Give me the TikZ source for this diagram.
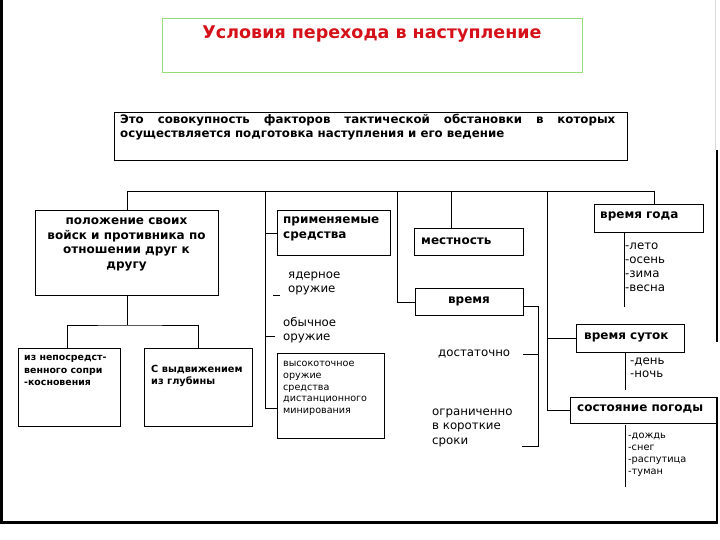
\documentclass[tikz,border=0pt]{standalone}
\usepackage{fontspec}
\setmainfont{DejaVu Sans}
\usetikzlibrary{positioning}
\definecolor{titlered}{RGB}{214,16,24}
\definecolor{framegreen}{RGB}{150,220,120}

\begin{document}
\begin{tikzpicture}[x=1pt,y=-1pt,
    box/.style={draw, line width=1pt, anchor=north west, inner sep=0pt},
    lab/.style={font=\bfseries\fontsize{12}{14.5}\selectfont, align=left, inner sep=0pt, anchor=west},
    item/.style={font=\fontsize{11.8}{14}\selectfont, align=left, inner sep=0pt, anchor=west},
    small/.style={font=\fontsize{9.8}{12}\selectfont, align=left, inner sep=0pt, anchor=west},
    wire/.style={line width=1pt}]
  \useasboundingbox (0,0) rectangle (720,540);

  % outer frame
  \draw[line width=3pt] (1.5,0) -- (1.5,522) -- (718,522);
  \draw[black!15, line width=.8pt] (715.5,0) -- (715.5,150);
  \draw[line width=1.2pt] (717,150) -- (717,342);
  \draw[line width=1.2pt] (717,397) -- (717,522);

  % title and definition
  \node[box, draw=framegreen, minimum width=420, minimum height=54] (ttl) at (162,18) {};
  \node[font=\bfseries\fontsize{17.5}{20}\selectfont, text=titlered, inner sep=0pt] (ttlT) at (372,34) {Условия перехода в наступление};
  \node[box, line width=1.2pt, minimum width=513, minimum height=48] (def) at (114,112) {};
  \node[font=\bfseries\fontsize{11.8}{13.5}\selectfont, align=left, inner sep=0pt, anchor=north west] (defT) at (120,114)
    {\makebox[495pt][s]{Это совокупность факторов тактической обстановки в которых}\\
     осуществляется подготовка наступления и его ведение};

  % boxes
  \node[box, minimum width=183, minimum height=85] (pos) at (35,210) {};
  \node[box, minimum width=102, minimum height=78] (near) at (18,348) {};
  \node[box, minimum width=108, minimum height=78] (deep) at (144,348) {};
  \node[box, minimum width=113, minimum height=45] (prim) at (277,210) {};
  \node[box, minimum width=107, minimum height=85] (vys) at (277,353) {};
  \node[box, minimum width=109, minimum height=27] (mest) at (414,228) {};
  \node[box, minimum width=108, minimum height=27] (vrem) at (415,288) {};
  \node[box, minimum width=109, minimum height=28] (god) at (594,204) {};
  \node[box, minimum width=108, minimum height=28] (sut) at (576,324) {};
  \node[box, minimum width=147, minimum height=26] (pog) at (570,397) {};

  % texts
  \node[lab, align=center, anchor=center] (posT) at (126.5,244.5) {положение своих\\войск и противника по\\отношении друг к\\другу};
  \node[small, font=\bfseries\fontsize{9.4}{12.5}\selectfont] (nearT) at (24,370.5) {из непосредст-\\венного сопри\\-косновения};
  \node[small, font=\bfseries\fontsize{9.8}{12}\selectfont] (deepT) at (151,376) {С выдвижением\\из глубины};
  \node[lab] (primT) at (283,229) {применяемые\\средства};
  \node[item] (yadT) at (288,283) {ядерное\\оружие};
  \node[item] (obT) at (283,330.5) {обычное\\оружие};
  \node[small, font=\fontsize{9.6}{11.8}\selectfont] (vysT) at (283,388.5) {высокоточное\\оружие\\средства\\дистанционного\\минирования};
  \node[lab] (mestT) at (421,241) {местность};
  \node[lab, anchor=center] (vremT) at (469,301) {время};
  \node[item] (dostT) at (438,354) {достаточно};
  \node[item, font=\fontsize{11.8}{14.5}\selectfont] (ogrT) at (432,427.5) {ограниченно\\в короткие\\сроки};
  \node[lab] (godT) at (600,216) {время года};
  \node[item] (godL) at (625,267) {-лето\\-осень\\-зима\\-весна};
  \node[lab] (sutT) at (584,337) {время суток};
  \node[item, font=\fontsize{11.8}{13}\selectfont] (sutL) at (630,367.5) {-день\\-ночь};
  \node[lab] (pogT) at (577,409) {состояние погоды};
  \node[small] (pogL) at (628,455) {-дождь\\-снег\\-распутица\\-туман};

  % connectors
  \coordinate (busR) at (654,192);
  \coordinate (spine) at (265,192);
  \coordinate (timeX) at (397,192);
  \coordinate (weaX) at (547,192);
  \draw[wire] (pos.north) |- (busR) -- (busR |- god.north);
  \draw[wire] (spine) -- (spine |- 0,408) -- (vys.west |- 0,408);
  \draw[wire] (spine |- prim.west) -- (prim.west);
  \draw[wire] (273,295) -- (280,295);
  \draw[wire] (spine |- 0,336) -- (275,336);
  \draw[wire] (timeX) |- (vrem.west);
  \draw[wire] (mest.north -| 451,0) -- (451,192);
  \draw[wire] (weaX) |- (pog.west);
  \draw[wire] (weaX |- sut.west) -- (sut.west);
  \draw[wire] ([yshift=-4.5]vrem.east) -| (538,446) -- (522,446);
  \draw[wire] (523,354) -- (538,354);
  \draw[wire] (pos.south) -- ++(0,29) coordinate (fork);
  \draw[wire] (near.north -| 67,0) |- (fork) -| (deep.north -| 198,0);
  \draw[wire] (624,233) -- (624,307);
  \draw[wire] (625,353) -- (625,390);
  \draw[wire] (625,425) -- (625,487);
\end{tikzpicture}
\end{document}
